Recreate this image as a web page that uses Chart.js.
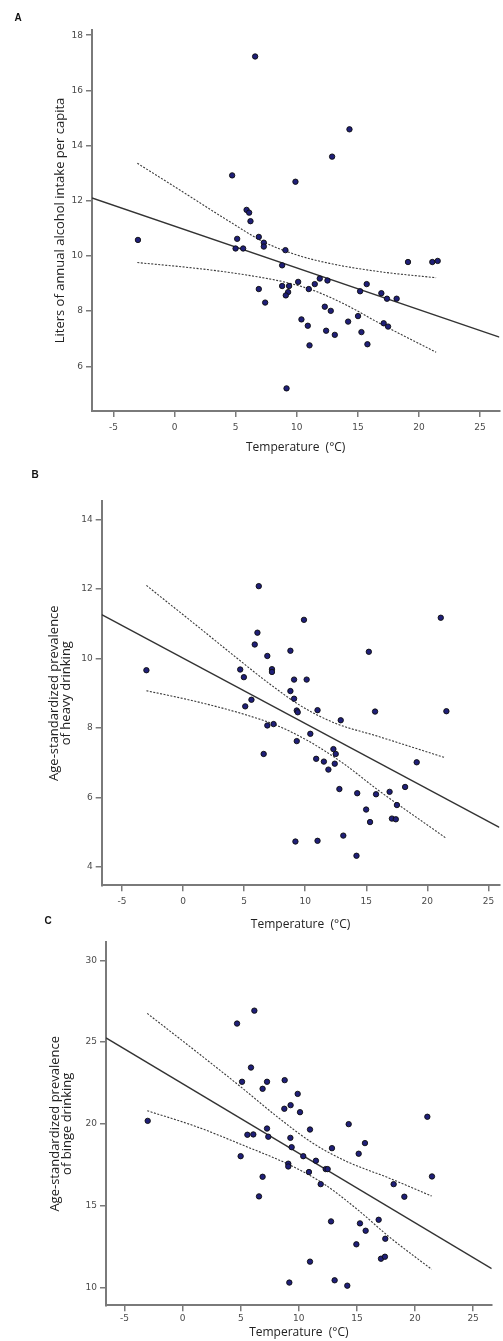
<!DOCTYPE html>
<html>
<head>
<meta charset="utf-8">
<script src="https://cdn.jsdelivr.net/npm/chart.js@4.4.1/dist/chart.umd.min.js"></script>
<style>
    body {
        margin: 0;
        background: #ffffff;
        width: 503px;
        height: 1341px;
        position: relative;
        overflow: hidden;
    }

    canvas {
        position: absolute;
        left: 0;
    }
</style>
</head>
<body>

<canvas id="chartA" width="503" height="460" style="top:0px"></canvas>
<canvas id="chartB" width="503" height="475" style="top:460px"></canvas>
<canvas id="chartC" width="503" height="436" style="top:905px"></canvas>

<script>

// A: annual alcohol intake (litres per capita) vs mean temperature
const alcoholTemp = [
    6.59, 14.31, 12.89, 4.71, 9.89, 5.89, 6.10, 6.21, -3.0, 5.12,
    6.89, 7.30, 7.30, 4.99, 5.61, 9.07, 19.10, 21.09, 21.53, 8.80,
    10.11, 11.88, 12.51, 11.47, 15.72, 8.80, 9.37, 9.29, 9.10, 10.98,
    6.89, 15.18, 16.92, 17.38, 18.17, 7.41, 12.29, 12.78, 10.38, 14.20,
    15.01, 10.90, 17.11, 17.47, 12.40, 13.11, 15.29, 11.04, 15.78, 9.16
];
const alcoholLiters = [
    17.23, 14.59, 13.60, 12.92, 12.69, 11.67, 11.57, 11.26, 10.58, 10.62,
    10.69, 10.48, 10.34, 10.27, 10.27, 10.21, 9.78, 9.78, 9.82, 9.66,
    9.06, 9.18, 9.11, 8.98, 8.98, 8.91, 8.91, 8.69, 8.57, 8.80,
    8.80, 8.72, 8.65, 8.45, 8.45, 8.31, 8.16, 8.01, 7.70, 7.62,
    7.82, 7.47, 7.56, 7.44, 7.29, 7.14, 7.24, 6.76, 6.80, 5.20
];
const alcoholFitX = [-6.76, 26.58];
const alcoholFitY = [12.10, 7.06];
const alcoholBandX = [-3.05, 0.43, 4.52, 7.24, 9.97, 12.69, 16.77, 21.4];
const alcoholUpper = [13.36, 12.39, 11.24, 10.52, 10.04, 9.73, 9.43, 9.21];
const alcoholLowX = [-3.05, 1.8, 5.88, 9.42, 11.6, 14.05, 16.77, 21.4];
const alcoholLower = [9.76, 9.55, 9.31, 9.01, 8.71, 8.22, 7.56, 6.51];

// B: heavy drinking prevalence vs mean temperature
const heavyTemp = [
    -3.0, 6.20, 9.90, 21.10, 6.09, 5.87, 8.79, 15.21, 6.90, 4.68,
    7.28, 7.28, 4.98, 9.09, 10.12, 8.79, 9.09, 5.60, 5.09, 9.31,
    9.39, 11.01, 15.72, 21.56, 12.91, 7.41, 6.90, 10.42, 9.31, 12.31,
    12.50, 6.60, 10.90, 11.53, 12.42, 19.13, 11.90, 18.18, 12.80, 14.26,
    15.80, 16.91, 17.51, 14.99, 15.31, 17.10, 17.42, 9.20, 11.01, 13.12,
    14.20
];
const heavyPrev = [
    9.66, 12.08, 11.11, 11.17, 10.74, 10.40, 10.22, 10.19, 10.07, 9.68,
    9.69, 9.61, 9.46, 9.39, 9.39, 9.06, 8.84, 8.81, 8.62, 8.50,
    8.45, 8.51, 8.47, 8.48, 8.22, 8.11, 8.07, 7.83, 7.62, 7.39,
    7.25, 7.25, 7.11, 7.03, 6.97, 7.01, 6.80, 6.30, 6.24, 6.12,
    6.09, 6.16, 5.78, 5.65, 5.29, 5.39, 5.37, 4.73, 4.75, 4.90,
    4.32
];
const heavyFitX = [-6.66, 25.9];
const heavyFitY = [11.26, 5.14];
const heavyBandX = [-3.0, 1.06, 4.3, 7.0, 9.71, 12.42, 15.93, 21.48];
const heavyUpper = [12.10, 10.96, 10.04, 9.29, 8.62, 8.14, 7.76, 7.14];
const heavyLowX = [-3.0, 1.06, 5.11, 7.82, 10.52, 13.23, 15.93, 21.48];
const heavyLower = [9.07, 8.76, 8.38, 8.05, 7.57, 6.95, 6.22, 4.84];

// C: binge drinking prevalence vs mean temperature
const bingeTemp = [
    -3.01, 6.17, 4.68, 5.88, 5.11, 7.26, 8.78, 6.88, 9.90, 8.75,
    9.29, 10.10, 21.06, 14.29, 10.96, 7.26, 5.57, 6.08, 7.37, 9.27,
    15.69, 9.38, 12.85, 15.15, 4.99, 10.38, 11.47, 9.09, 9.09, 12.31,
    12.48, 10.87, 6.88, 21.46, 11.88, 18.16, 6.57, 19.08, 16.87, 12.77,
    15.26, 15.75, 17.44, 14.95, 17.07, 17.41, 10.96, 13.08, 9.18, 14.17
];
const bingePrev = [
    20.18, 26.92, 26.13, 23.44, 22.57, 22.57, 22.67, 22.14, 21.83, 20.92,
    21.14, 20.71, 20.43, 19.98, 19.65, 19.71, 19.33, 19.35, 19.21, 19.14,
    18.82, 18.57, 18.51, 18.17, 18.02, 18.02, 17.74, 17.56, 17.39, 17.23,
    17.23, 17.05, 16.76, 16.78, 16.31, 16.31, 15.56, 15.54, 14.13, 14.03,
    13.91, 13.46, 12.97, 12.63, 11.75, 11.87, 11.57, 10.43, 10.29, 10.10
];
const bingeFitX = [-6.6, 26.6];
const bingeFitY = [25.25, 11.14];
const bingeBandX = [-3.05, 1.2, 4.93, 8.37, 11.24, 14.11, 17.84, 21.43];
const bingeUpper = [26.75, 24.4, 22.3, 20.3, 18.8, 17.7, 16.66, 15.58];
const bingeLowX = [-3.05, 1.2, 5.51, 9.23, 12.1, 14.97, 17.84, 21.43];
const bingeLower = [20.8, 19.82, 18.6, 17.48, 16.35, 14.8, 13.05, 11.1];

const xTitle = "Temperature  (°C)";

const axisGray = "#7a7a7a";
const lineGray = "#333333";
const tickFont = { family: "DejaVu Sans", size: 9 };
const titleFont = { family: "Open Sans", size: 13 };

function toPoints(xs, ys) {
    return xs.map((x, i) => ({ x: x, y: ys[i] }));
}

// small plugin for the bold panel letter in the corner
const panelLetter = {
    id: "panelLetter",
    afterDraw(chart, args, opts) {
        const ctx = chart.ctx;
        ctx.save();
        ctx.font = "bold 10px 'Liberation Sans'";
        ctx.fillStyle = "#111";
        ctx.textAlign = "center";
        ctx.textBaseline = "middle";
        ctx.fillText(opts.text, opts.x, opts.y);
        ctx.restore();
    }
};

function bandLine(points) {
    return {
        type: "line",
        data: points,
        borderColor: "#3a3a3a",
        borderWidth: 1.1,
        borderDash: [2, 1.5],
        pointRadius: 0,
        cubicInterpolationMode: "monotone",
        fill: false
    };
}

function drawPanel(cfg) {

    const ctx = document.getElementById(cfg.id);

    return new Chart(ctx, {

        type: "scatter",

        data: {
            datasets: [
                {
                    data: toPoints(cfg.tx, cfg.ty),
                    pointRadius: 2.7,
                    pointHoverRadius: 2.7,
                    backgroundColor: "#1f1f78",
                    borderColor: "#0c0c0c",
                    borderWidth: 0.9
                },
                {
                    type: "line",
                    data: toPoints(cfg.fitX, cfg.fitY),
                    borderColor: lineGray,
                    borderWidth: 1.4,
                    pointRadius: 0,
                    fill: false
                },
                bandLine(toPoints(cfg.upX, cfg.upY)),
                bandLine(toPoints(cfg.lowX, cfg.lowY))
            ]
        },

        options: {
            responsive: false,
            animation: false,
            events: [],

            layout: {
                padding: { left: 0, top: cfg.top, right: cfg.right, bottom: 0 }
            },

            plugins: {
                legend: { display: false },
                tooltip: { enabled: false },
                panelLetter: cfg.letter
            },

            scales: {

                x: {
                    type: "linear",
                    min: cfg.xMin,
                    max: cfg.xMax,
                    afterFit: s => { s.height = cfg.xHeight; },
                    ticks: {
                        stepSize: 5,
                        includeBounds: false,
                        font: tickFont,
                        color: "#4a4a4a",
                        padding: cfg.xPad,
                        maxRotation: 0
                    },
                    grid: {
                        drawOnChartArea: false,
                        tickLength: 6,
                        color: axisGray,
                        lineWidth: 1.5
                    },
                    border: { color: axisGray, width: 2 },
                    title: {
                        display: true,
                        text: xTitle,
                        font: { family: "Open Sans", size: 12 },
                        color: "#222",
                        padding: { top: 0, bottom: cfg.xTitlePad }
                    }
                },

                y: {
                    type: "linear",
                    min: cfg.yMin,
                    max: cfg.yMax,
                    afterFit: s => { s.width = cfg.yWidth; },
                    ticks: {
                        stepSize: cfg.yStep,
                        includeBounds: false,
                        font: tickFont,
                        color: "#4a4a4a",
                        padding: 3
                    },
                    grid: {
                        drawOnChartArea: false,
                        tickLength: 6,
                        color: axisGray,
                        lineWidth: 1.5
                    },
                    border: { color: axisGray, width: 2 },
                    title: {
                        display: true,
                        text: cfg.yTitle,
                        font: Object.assign({ lineHeight: cfg.yLine }, titleFont),
                        color: "#222",
                        padding: { top: cfg.yTitlePad, bottom: 0 }
                    }
                }
            }
        },

        plugins: [panelLetter]
    });
}

drawPanel({
    id: "chartA",
    tx: alcoholTemp, ty: alcoholLiters,
    fitX: alcoholFitX, fitY: alcoholFitY,
    upX: alcoholBandX, upY: alcoholUpper,
    lowX: alcoholLowX, lowY: alcoholLower,
    xMin: -6.76, xMax: 26.58,
    yMin: 4.38, yMax: 18.19, yStep: 2,
    top: 30, right: 3,
    yWidth: 92, xHeight: 49, xPad: 5.6, xTitlePad: 4.8,
    yTitle: "Liters of annual alcohol intake per capita",
    yLine: 1.2, yTitlePad: 52.2,
    letter: { text: "A", x: 18, y: 18 }
});

drawPanel({
    id: "chartB",
    tx: heavyTemp, ty: heavyPrev,
    fitX: heavyFitX, fitY: heavyFitY,
    upX: heavyBandX, upY: heavyUpper,
    lowX: heavyLowX, lowY: heavyLower,
    xMin: -6.66, xMax: 25.9,
    yMin: 3.47, yMax: 14.53, yStep: 2,
    top: 41, right: 0,
    yWidth: 101.7, xHeight: 49.7, xPad: 5, xTitlePad: 2.8,
    yTitle: ["Age-standardized prevalence", "of heavy drinking"],
    yLine: 0.92, yTitlePad: 48,
    letter: { text: "B", x: 35, y: 15 }
});

drawPanel({
    id: "chartC",
    tx: bingeTemp, ty: bingePrev,
    fitX: bingeFitX, fitY: bingeFitY,
    upX: bingeBandX, upY: bingeUpper,
    lowX: bingeLowX, lowY: bingeLower,
    xMin: -6.6, xMax: 26.6,
    yMin: 8.9, yMax: 31.1, yStep: 5,
    top: 37.3, right: 11.3,
    yWidth: 106, xHeight: 35.7, xPad: 2, xTitlePad: 0.8,
    yTitle: ["Age-standardized prevalence", "of binge drinking"],
    yLine: 0.92, yTitlePad: 49.7,
    letter: { text: "C", x: 48, y: 16.7 }
});

</script>
</body>
</html>
